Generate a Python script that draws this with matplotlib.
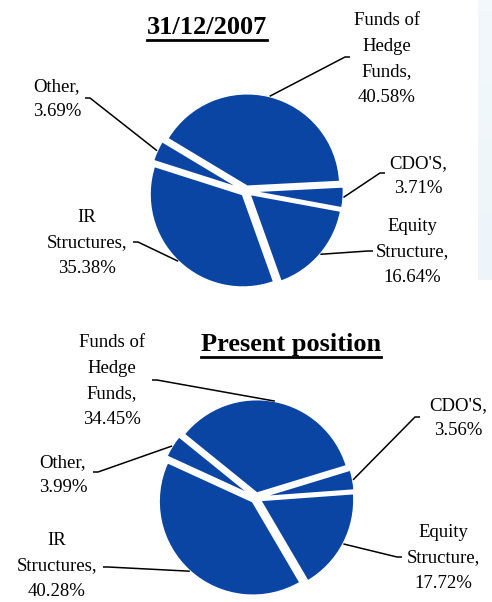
import matplotlib.pyplot as plt
import numpy as np

W, H = 492, 602
BLUE = "#0B45A4"
FONT = "Liberation Serif"

NAMES = ["Funds of\nHedge\nFunds", "CDO'S", "Equity\nStructure", "IR\nStructures", "Other"]
SHARES_2007 = [40.58, 3.71, 16.64, 35.38, 3.69]
SHARES_NOW = [34.45, 3.56, 17.72, 40.28, 3.99]
TITLE_2007 = "31/12/2007"
TITLE_NOW = "Present position"

# layout, in pixels from the top-left corner
PIES = [
    dict(values=SHARES_2007, title=TITLE_2007, title_xy=(207, 28), center=(246, 191), radius=93, start=149,
         labels=[(387, 59), (418, 176), (412, 252), (87, 243), (57, 99)],
         tails=[(350, 57), (385, 173), (373, 251), (133, 242), (85, 98)]),
    dict(values=SHARES_NOW, title=TITLE_NOW, title_xy=(291, 345), center=(256, 498), radius=94, start=141,
         labels=[(112, 381), (458, 418), (443, 558), (57, 566), (63, 475)],
         tails=[(152, 380), (420, 417), (402, 557), (103, 567), (93, 472)]),
]


def up(y):
    return H - y


fig = plt.figure(figsize=(W / 100, H / 100), dpi=100)
ax = fig.add_axes([0, 0, 1, 1])

# faint blue strip on the right edge of the slide
strip = np.linspace(0, 1, 50)[:, None] * np.ones((1, 10))
ax.imshow(strip, cmap="Blues", vmin=-4, vmax=6, alpha=0.12, extent=(478, 492, up(280), up(0)),
          aspect="auto", zorder=0)

titles = []
for p in PIES:
    cx, cy = p["center"]
    r = p["radius"]
    wedges, _ = ax.pie(p["values"], explode=[0.05 * r] * len(p["values"]), startangle=p["start"],
                       counterclock=False, colors=[BLUE] * len(p["values"]), radius=r,
                       center=(cx, up(cy)), wedgeprops=dict(edgecolor="white", linewidth=1.5))

    for w, name, val, (lx, ly), (tx, ty) in zip(wedges, NAMES, p["values"], p["labels"], p["tails"]):
        ax.text(lx, up(ly), f"{name},\n{val:.2f}%", ha="center", va="center", fontsize=13.5,
                family=FONT, linespacing=1.65, color="black")
        mid = np.deg2rad((w.theta1 + w.theta2) / 2)
        ex = w.center[0] + w.r * np.cos(mid)
        ey = w.center[1] + w.r * np.sin(mid)
        step = 5 if ex > tx else -5
        ax.plot([tx, tx + step, ex], [up(ty), up(ty), ey], color="black", lw=1.1, solid_capstyle="butt")

    tx, ty = p["title_xy"]
    t = ax.text(tx, up(ty), p["title"], ha="center", va="center", fontsize=19, weight="bold", family=FONT)
    titles.append(t)

ax.set_xlim(0, W)
ax.set_ylim(0, H)
ax.set_aspect("auto")
ax.axis("off")

# underline the titles
fig.canvas.draw()
renderer = fig.canvas.get_renderer()
for t in titles:
    bb = t.get_window_extent(renderer).transformed(ax.transData.inverted())
    ax.plot([bb.x0, bb.x1], [bb.y0, bb.y0], color="black", lw=2)

fig.savefig("out.png", dpi=100)
